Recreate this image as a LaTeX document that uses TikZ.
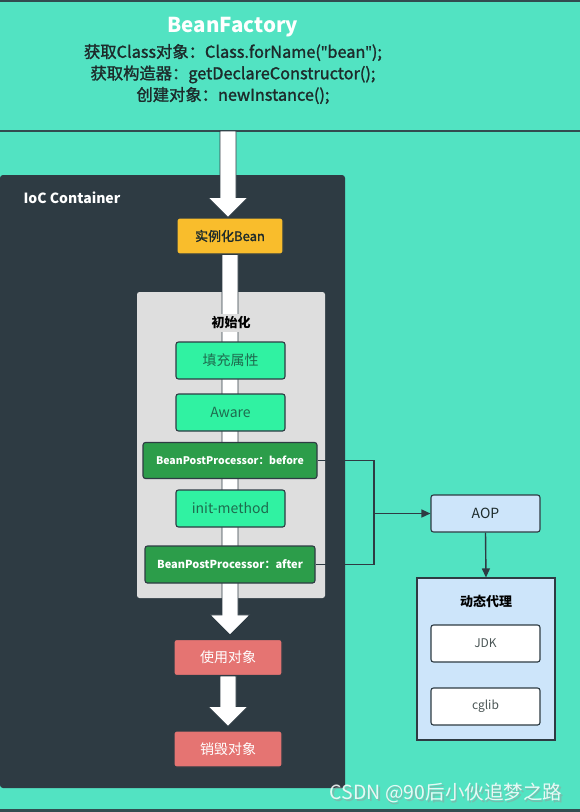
\documentclass[tikz,border=0pt]{standalone}
\usepackage{fontspec}
\setmainfont{Noto Sans CJK SC}
\newfontfamily\medfont{Noto Sans CJK SC}[FakeBold=1.5]
\newfontfamily\qf{Open Sans}[FakeBold=1.5]
\usetikzlibrary{calc,arrows.meta}
\definecolor{teal}{HTML}{52E3C2}
\definecolor{dk}{HTML}{2E3B43}
\definecolor{grayb}{HTML}{DEDEDE}
\definecolor{yel}{HTML}{F9BD2C}
\definecolor{grn}{HTML}{30F2A2}
\definecolor{grntxt}{HTML}{1E6B4E}
\definecolor{dgrn}{HTML}{2C9D4A}
\definecolor{redb}{HTML}{E57472}
\definecolor{lblue}{HTML}{CDE5FA}
\definecolor{txt}{HTML}{1D2B2B}
\newcommand\bigarrow[2]{%
  \path let \p1=(#1), \p2=(#2) in
    [draw=dk, fill=white, line width=0.8pt]
    (\x1-8pt,\y1) -- (\x1-8pt,\y2+20pt) -- (\x1-20pt,\y2+20pt) -- (\x1,\y2)
    -- (\x1+20pt,\y2+20pt) -- (\x1+8pt,\y2+20pt) -- (\x1+8pt,\y1) -- cycle;}
\begin{document}
\begin{tikzpicture}[x=1pt,y=-1pt,
  box/.style={draw=dk, line width=1.1pt, rounded corners=2.5pt, inner sep=0pt, align=center},
  lgreen/.style={box, fill=grn, minimum width=109pt, minimum height=37pt, text=grntxt, font=\fontsize{14}{16}\selectfont},
  dgreen/.style={box, fill=dgrn, minimum height=36pt, text=white, font=\bfseries\fontsize{10.5}{12}\selectfont},
  redbox/.style={box, fill=redb, minimum width=108pt, minimum height=36pt, text=white, font=\fontsize{14}{16}\selectfont},
  whitebox/.style={box, fill=white, minimum width=109pt, minimum height=37pt, text=txt!80, font=\fontsize{12}{14}\selectfont},
  conn/.style={draw=dk, line width=1.4pt},
  ttl/.style={font=\bfseries\fontsize{13}{15}\selectfont, text=black, inner sep=1pt}
]
\useasboundingbox (0,0) rectangle (580,812);
\fill[teal] (0,0) rectangle (580,812);
\draw[dk!90!teal, line width=2.5pt] (0,1.2) -- (580,1.2);
\draw[dk!90!teal, line width=2pt] (0,131) -- (580,131);
\draw[dk!90!teal, line width=3pt] (0,810.5) -- (580,810.5);
\coordinate (topb) at (228,131);

% top panel texts
\node[text=white, font=\bfseries\fontsize{20.5}{24}\selectfont] (bf) at (233,27) {BeanFactory};
\node[text=txt, font=\medfont\fontsize{16.3}{21.5}\selectfont, align=center] (bftxt) at (233,74)
  {获取Class对象：Class.forName({\qf"}bean{\qf"});\\获取构造器：getDeclareConstructor();\\创建对象：newInstance();};

% IoC container
\fill[dk, rounded corners=3pt] (0,788) -- (0,175) -- (345,175) -- (345,788) -- cycle;
\node[text=white, font=\bfseries\fontsize{14}{16}\selectfont, anchor=west] (ioc) at (20,198) {IoC Container};

% nodes
\node[box, fill=yel, minimum width=106pt, minimum height=36pt, text=txt, font=\medfont\fontsize{13}{15}\selectfont] (inst) at (230,236) {实例化Bean};
\node[box, fill=grayb, draw=none, minimum width=188pt, minimum height=306pt] (initbox) at (231,445) {};
\node[redbox] (use) at (228,657.5) {使用对象};
\node[redbox] (destroy) at (228,749) {销毁对象};

% big arrows
\bigarrow{topb}{inst.north}
\bigarrow{inst.south}{$(use.north)+(0,-4)$}
\bigarrow{use.south}{$(destroy.north)+(0,-4)$}

\node[fill=grayb, ttl, inner sep=3pt] (initl) at (231,323) {初始化};
\node[lgreen] (fillp) at (230.5,360.5) {填充属性};
\node[lgreen] (aware) at (230.5,412.5) {Aware};
\node[dgreen, minimum width=174pt] (before) at (230,460.5) {BeanPostProcessor：before};
\node[lgreen] (initm) at (230.5,508.5) {init-method};
\node[dgreen, minimum width=170pt, minimum height=37pt, font=\bfseries\fontsize{11}{12}\selectfont] (after) at (230,564.5) {BeanPostProcessor：after};

% right side
\node[box, fill=lblue, minimum width=109pt, minimum height=37pt, text=txt, font=\fontsize{14}{16}\selectfont] (aop) at (485.5,513.5) {AOP};
\node[box, fill=lblue, rounded corners=0pt, minimum width=138pt, minimum height=162pt] (dyn) at (486,659) {};
\node[ttl] (dynl) at (486,601) {动态代理};
\node[whitebox] (jdk) at (485.5,643.5) {JDK};
\node[whitebox] (cglib) at (485.5,706.5) {cglib};

% connectors
\coordinate (j) at (374,513.5);
\draw[conn] (before.east) -| (j) |- (after.east);
\draw[conn, -{Triangle[length=9pt,width=8pt]}] (j) -- (aop.west);
\draw[conn, -{Triangle[length=9pt,width=8pt]}] (aop.south) -- (dyn.north);

% watermark
\node[text=black!40, opacity=0.5, font=\fontsize{19.5}{21}\selectfont] (wms) at (447.5,794.5) {CSDN @90后小伙追梦之路};
\node[text=white, opacity=0.85, font=\fontsize{19.5}{21}\selectfont] (wm) at (446,793) {CSDN @90后小伙追梦之路};
\end{tikzpicture}
\end{document}
